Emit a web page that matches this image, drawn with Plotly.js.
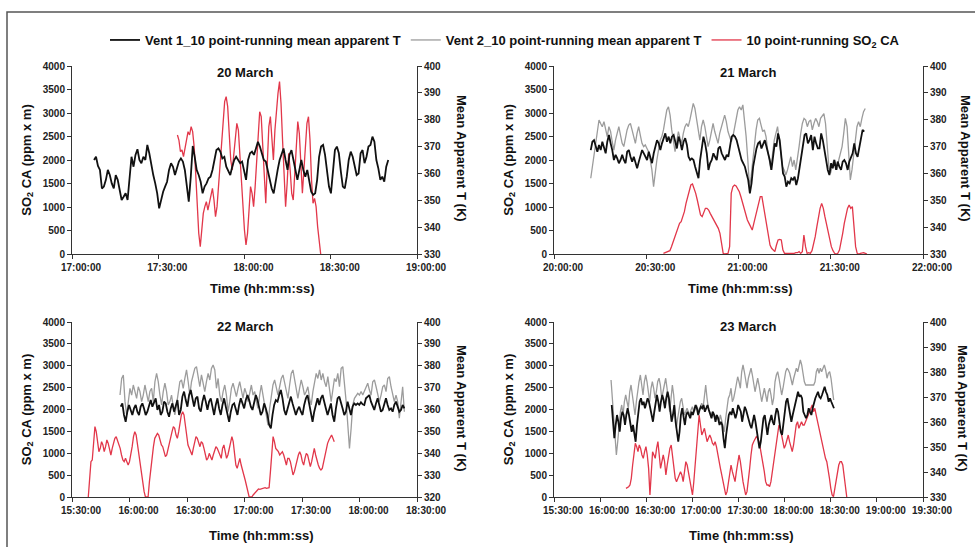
<!DOCTYPE html>
<html><head><meta charset="utf-8">
<script src="https://cdn.plot.ly/plotly-3.0.1.min.js"></script>
<style>html,body{margin:0;padding:0;background:#fff}#chart{width:975px;height:547px}</style>
</head><body><div id="chart"></div>
<script>
// ---------- 20 March ----------
const day20 = "2008-03-20";
const v1_20_start = "17:07:40", v1_20_end = "18:50:00";
const v1_20 = [365.0,366.2,362.8,361.3,354.4,355.1,357.6,361.3,359.4,356.3,354.4,359.4,357.6,353.2,350.1,351.3,352.6,350.1,360.0,366.2,362.5,366.9,369.0,365.0,363.8,366.2,365.0,370.6,367.5,362.5,359.4,356.3,352.6,347.0,350.7,353.2,355.1,356.9,361.3,363.8,362.5,359.4,361.9,364.4,365.6,364.4,361.3,355.1,349.5,358.8,370.2,366.2,361.3,359.4,356.9,352.6,355.1,356.3,358.2,358.8,361.3,365.0,368.7,369.3,368.1,365.6,366.2,362.5,360.7,359.4,362.5,365.0,366.2,365.0,363.8,364.4,360.7,357.6,365.0,367.5,368.1,366.9,369.3,371.8,370.0,366.9,365.0,364.4,361.3,358.2,354.4,352.6,357.6,361.3,365.0,367.5,369.3,365.0,361.3,366.9,368.7,365.0,361.3,357.6,361.3,365.0,361.3,358.8,361.3,357.6,353.2,352.0,352.6,357.6,366.2,370.0,370.6,366.9,361.3,355.1,352.6,361.3,368.7,370.0,367.5,360.7,355.1,354.4,358.8,365.0,368.1,366.2,363.1,359.4,360.0,367.5,368.7,363.8,366.2,370.0,370.6,373.7,371.8,365.0,361.9,357.6,358.8,356.9,362.5,365.0];
const so2_20_start = "17:36:40", so2_20_end = "18:26:30";
const so2_20 = [2532,2425,2177,2213,2071,2248,2496,2603,2532,2709,2603,2284,1716,936,440,156,582,865,1007,1113,936,1078,1291,1397,1149,794,1007,1433,1858,2355,2851,3241,3347,3135,2567,2000,1787,2142,2425,2780,2638,2142,1433,936,511,191,440,936,1433,1291,1007,1433,2000,2496,3028,2922,2355,1645,1078,1929,2709,2922,2496,2000,2638,3064,3418,3667,3206,2425,1574,1007,1504,2142,1787,1291,1149,1787,2496,2816,2567,1858,1291,1787,2355,2780,2922,2425,1574,1078,1184,1007,582,227,0];

// ---------- 21 March ----------
const day21 = "2008-03-21";
const v1_21_start = "20:11:57", v1_21_end = "21:40:54";
const v1_21 = [368.7,371.8,372.4,370.0,368.1,370.6,368.7,371.8,369.3,367.5,371.8,374.3,371.2,368.7,365.0,366.9,365.6,363.8,365.0,366.9,365.0,363.8,368.1,368.7,366.2,364.4,366.2,364.4,361.9,364.4,366.9,368.7,367.5,366.2,365.0,368.1,365.6,363.8,367.5,370.0,372.4,371.2,368.7,371.2,373.1,374.9,371.8,373.7,371.2,373.7,374.3,371.8,369.3,373.7,371.8,368.7,371.8,373.1,370.6,366.2,365.0,365.6,365.0,362.5,360.7,358.2,365.0,368.7,373.7,371.2,367.5,361.3,363.8,365.0,367.5,366.2,365.0,369.3,370.0,367.5,366.2,365.0,366.9,366.2,370.0,373.7,374.3,373.7,372.4,370.0,367.5,365.0,363.8,362.5,360.0,357.6,352.6,356.3,362.5,366.2,369.3,371.2,371.8,369.3,371.2,372.4,370.0,367.5,365.0,361.3,367.5,371.2,370.0,374.9,372.4,365.0,360.0,358.8,355.1,356.9,356.3,358.2,357.6,358.8,355.7,358.2,362.5,367.5,371.8,374.3,374.9,371.2,372.4,374.3,368.7,373.7,371.2,369.3,369.3,374.9,372.4,368.7,365.0,361.3,359.4,363.8,361.9,365.0,361.3,364.4,362.5,361.3,364.4,365.0,363.8,361.3,364.4,366.2,367.5,371.2,367.5,366.2,370.0,372.4,376.2,375.6];
const v2_21_start = "20:11:57", v2_21_end = "21:41:13";
const v2_21 = [358.2,362.5,367.5,372.4,376.2,379.9,378.6,377.4,379.3,376.2,373.7,377.4,375.6,371.8,368.7,372.4,375.6,377.4,374.3,371.2,370.0,373.7,376.2,378.0,378.6,376.2,373.7,371.2,374.9,377.4,374.3,371.2,370.0,370.6,369.3,368.1,365.0,361.3,355.1,361.3,365.0,368.7,372.4,373.7,376.2,379.9,383.6,384.8,381.7,376.2,371.2,368.1,371.8,375.6,373.1,371.2,374.9,377.4,378.6,377.4,379.9,383.0,386.1,384.2,379.9,375.6,372.4,377.4,379.9,377.4,373.7,370.0,372.4,376.2,378.6,375.6,373.1,371.2,374.9,377.4,379.9,381.7,379.3,375.6,373.7,371.8,373.7,377.4,381.1,383.6,384.8,383.6,385.5,380.5,373.7,365.0,355.1,358.8,365.0,371.2,376.2,379.9,380.5,378.0,375.6,376.2,373.7,368.7,365.0,361.3,367.5,372.4,374.9,377.4,372.4,366.2,362.5,361.3,359.4,361.3,363.8,366.2,362.5,365.0,361.3,365.0,370.0,374.9,378.6,380.5,379.9,377.4,379.3,379.9,376.2,378.6,380.5,379.3,377.4,380.5,381.7,382.3,378.6,368.7,362.5,360.0,362.5,365.0,363.8,361.3,365.0,367.5,370.0,374.9,380.5,377.4,366.2,357.6,361.3,367.5,373.7,377.4,379.3,377.4,380.5,383.0,384.2];
const so2_21_start = "20:35:35", so2_21_end = "21:41:46";
const so2_21 = [14,28,28,50,71,156,262,369,475,581,652,688,794,900,1077,1219,1361,1468,1489,1397,1290,1149,1007,830,794,900,971,971,936,865,794,723,688,617,546,439,227,14,0,0,14,156,1290,1432,1468,1446,1397,1326,1219,1077,936,794,723,652,581,510,652,794,936,1077,1219,1219,1007,794,581,369,191,121,85,50,191,298,312,298,85,14,14,14,0,0,14,14,28,28,50,14,50,404,156,14,28,14,71,191,369,581,794,971,1077,971,794,617,439,262,156,71,14,0,14,85,227,439,652,830,971,1042,971,1007,652,156,14,0,14,28,28,14,0];

// ---------- 22 March ----------
const day22 = "2008-03-22";
const v1_22_start = "15:55:24", v1_22_end = "18:23:24";
const v1_22 = [361.3,362.8,357.5,354.4,359.0,362.1,359.8,357.5,360.5,362.1,359.0,357.5,361.3,362.8,360.5,357.5,359.0,362.1,364.3,361.3,363.6,365.1,359.8,362.1,357.5,359.0,363.6,362.8,359.0,356.7,360.5,362.8,359.0,362.1,364.3,357.5,359.8,365.9,368.2,364.3,361.3,366.6,368.9,365.1,361.3,365.1,365.9,360.5,359.0,363.6,366.6,363.6,359.8,363.6,365.1,361.3,357.5,362.1,365.1,360.5,357.5,362.1,365.1,361.3,357.5,354.4,359.0,362.1,362.8,359.8,357.5,362.1,365.1,362.8,360.5,364.3,366.6,364.3,361.3,359.8,363.6,366.6,364.3,360.5,357.5,359.0,362.8,360.5,357.5,352.9,351.4,357.5,362.1,364.3,363.6,366.6,368.9,365.1,359.8,357.5,360.5,363.6,365.9,362.8,359.8,357.5,359.8,361.3,359.0,357.5,362.1,365.1,366.6,362.8,359.0,354.4,359.0,362.8,365.1,362.1,365.1,366.6,362.8,360.5,357.5,360.5,362.8,357.5,354.4,360.5,365.1,365.9,363.6,360.5,357.5,359.0,363.6,360.5,357.5,361.3,362.8,362.1,362.8,362.1,363.3,362.4,362.1,365.1,365.9,366.6,363.6,361.3,359.8,362.8,365.1,362.1,359.0,359.8,362.8,365.1,362.1,359.8,360.5,359.0,362.1,363.6,361.3,359.0,359.8,362.1,360.5];
const v2_22_start = "15:55:03", v2_22_end = "18:23:24";
const v2_22 = [366.6,374.2,375.8,363.6,357.5,365.1,369.7,366.6,371.2,368.2,365.1,370.4,368.2,363.6,366.6,371.2,366.6,363.6,368.2,369.7,363.6,372.7,376.5,372.7,366.6,362.1,368.2,372.0,368.2,362.1,363.6,366.6,361.3,357.5,362.1,366.6,372.7,373.5,369.7,374.2,378.1,372.7,366.6,372.7,375.8,378.8,379.6,375.0,370.4,375.8,372.7,368.2,372.7,376.5,373.5,378.8,380.3,378.1,369.7,374.2,366.6,363.6,368.2,371.2,366.6,359.0,363.6,369.7,372.0,368.2,365.9,369.7,372.7,368.9,365.1,369.7,367.4,363.6,368.2,371.2,366.6,368.2,363.6,360.5,366.6,371.2,366.6,362.1,357.5,352.9,360.5,366.6,371.2,373.5,370.4,366.6,370.4,374.2,375.8,372.7,368.2,365.1,371.2,376.5,378.1,373.5,368.2,365.1,369.7,373.5,370.4,366.6,368.2,370.4,365.1,362.1,368.2,372.7,376.5,374.2,378.1,373.5,376.5,372.7,370.4,375.0,368.2,363.6,368.9,374.2,372.7,376.5,370.4,378.8,379.6,372.7,363.6,352.9,342.2,351.4,362.1,365.1,366.6,367.4,366.6,368.2,366.6,368.2,370.4,372.0,368.9,366.6,372.7,373.5,370.4,366.6,363.6,366.6,370.4,371.2,368.2,374.2,375.0,370.4,366.6,363.6,366.6,363.6,356.0,365.1,370.4,359.0];
const so2_22_start = "15:38:30", so2_22_end = "17:46:50";
const so2_22 = [0,503,808,846,1265,1608,1493,1227,1036,1112,1265,1189,1036,1150,1303,1227,1074,960,1112,1265,1341,1379,1303,1227,1112,960,846,808,884,808,731,808,960,1150,1379,1493,1417,1189,960,731,579,350,122,0,0,0,350,655,884,1150,1341,1417,1455,1417,1303,1189,1150,1036,922,960,1112,1227,1341,1493,1608,1570,1417,1341,1493,1722,1874,1950,1874,1646,1417,1189,1112,1036,960,1112,1265,1379,1341,1227,1150,1265,1227,1112,960,846,884,998,922,846,960,1036,1150,1112,1036,960,884,1112,1189,1036,884,960,1112,1265,1379,1265,960,731,655,808,884,731,579,503,389,274,122,0,0,0,46,84,122,160,183,175,183,183,198,213,198,198,213,579,1112,1379,1265,1112,1074,1036,960,998,1036,960,808,731,884,884,808,655,503,579,731,808,960,1036,960,808,731,884,998,960,808,693,808,960,1112,960,808,731,655,617,655,808,960,1112,1227,1303,1379,1417,1341,1265];

// ---------- 23 March ----------
const day23 = "2008-03-23";
const v1_23_start = "16:07:32", v1_23_end = "18:32:06";
const v1_23 = [366.8,358.8,353.5,358.8,362.8,360.1,356.1,361.5,364.1,362.8,358.8,362.8,365.5,362.8,358.8,356.1,358.8,354.8,352.1,358.8,364.1,368.1,369.5,366.8,368.1,365.5,367.5,369.5,368.1,365.5,362.8,360.1,364.1,368.1,370.8,368.1,364.1,368.1,370.8,368.8,365.5,369.5,372.1,369.5,365.5,360.1,362.8,366.8,360.1,354.8,352.1,356.1,362.8,365.5,362.8,358.8,362.8,364.1,362.8,361.5,364.1,362.8,364.8,366.8,365.5,362.8,364.8,366.1,365.5,366.8,364.1,365.5,366.8,364.8,362.8,361.5,364.1,362.8,360.1,362.8,361.5,358.8,360.1,358.8,353.5,349.5,354.8,360.1,362.8,364.1,362.8,365.5,362.8,361.5,363.5,366.8,365.5,364.1,360.1,362.8,366.1,364.8,362.8,360.1,358.8,357.5,360.1,362.8,360.1,356.1,352.1,349.5,352.1,357.5,361.5,362.8,358.8,354.8,358.8,361.5,362.8,360.1,358.8,362.8,365.5,364.1,360.1,356.1,354.8,358.8,362.8,368.1,369.5,366.8,364.1,360.1,362.8,365.5,368.1,370.8,372.1,370.1,370.8,369.5,364.1,362.8,361.5,362.8,365.5,364.1,362.8,365.5,368.1,369.5,370.8,372.1,370.1,369.5,370.8,372.1,374.1,372.1,370.8,368.1,369.5,368.1,366.8,365.5];
const v2_23_start = "16:07:06", v2_23_end = "18:31:55";
const v2_23 = [376.8,369.5,362.8,354.8,346.8,352.1,358.8,364.1,366.8,362.8,368.1,370.8,368.1,365.5,372.1,374.8,370.8,366.8,362.8,368.1,373.5,376.1,378.8,374.8,370.8,376.1,378.8,376.1,370.8,368.1,373.5,376.1,373.5,369.5,372.1,376.1,377.5,374.8,369.5,372.1,376.1,377.5,373.5,368.1,364.1,369.5,374.8,370.8,362.8,357.5,361.5,365.5,368.1,369.5,365.5,362.8,364.1,365.5,364.1,362.8,364.8,366.1,364.1,364.8,366.8,365.5,364.1,366.1,367.5,365.5,370.8,374.8,369.5,365.5,364.1,362.8,364.1,362.8,361.5,362.8,361.5,360.1,362.8,360.1,357.5,356.1,361.5,366.8,369.5,370.8,373.5,368.1,369.5,372.1,376.1,378.1,376.1,373.5,380.1,382.8,380.1,376.1,373.5,377.5,380.1,381.5,378.8,374.8,372.1,374.8,377.5,374.8,370.8,368.1,370.8,373.5,370.8,368.1,372.1,373.5,370.8,366.8,369.5,376.1,378.8,380.1,377.5,373.5,370.8,373.5,377.5,380.1,381.5,380.8,379.5,377.5,374.8,377.5,380.1,381.5,380.1,382.8,384.8,382.8,378.8,376.1,374.8,374.8,374.8,374.8,374.8,374.8,374.8,376.1,380.1,381.5,379.5,381.5,380.1,381.5,382.8,380.8,377.5,379.5,380.1,377.5,373.5,368.8];
const so2_23_start = "16:16:50", so2_23_end = "18:40:25";
const so2_23 = [198,213,236,274,427,731,1036,1227,1150,1036,1189,1112,960,884,1036,1150,960,655,46,731,1036,960,884,1112,1265,960,655,808,960,808,503,731,960,1112,1189,960,655,427,350,427,503,579,503,350,579,808,731,579,427,274,46,350,731,1189,1646,1874,1646,1417,1493,1570,1417,1265,1341,1417,1341,1227,1189,1265,1150,960,808,655,503,350,198,46,122,350,579,731,579,427,350,579,808,960,808,503,350,198,46,122,350,655,960,1189,1265,1341,1379,1341,1265,1112,960,808,579,350,274,274,236,350,579,808,1036,1265,1493,1646,1570,1417,1265,1112,1189,1341,1417,1265,1112,1036,1189,1417,1646,1722,1570,1646,1722,1646,1646,1722,1798,1874,1950,2027,2103,1950,2027,1874,1722,1570,1417,1265,1112,960,884,808,655,427,198,46,8,198,427,579,731,808,808,731,503,198,0];

// ---------- colours / names ----------
const NAME_V1 = "Vent 1_10 point-running mean apparent T";
const NAME_V2 = "Vent 2_10 point-running mean apparent T";
const NAME_SO2 = "10 point-running SO<sub>2</sub> CA";
const C_V1 = "#111111", C_V2 = "#9c9c9c", C_SO2 = "#e2374a";
const FONT = "Liberation Sans, Arial, Helvetica, sans-serif";

function times(day, start, end, n) {
  const t0 = Date.parse(day + "T" + start + "Z");
  const t1 = Date.parse(day + "T" + end + "Z");
  const out = [];
  for (let i = 0; i < n; i++) {
    const t = new Date(t0 + (t1 - t0) * i / (n - 1));
    out.push(t.toISOString().slice(0, 19).replace("T", " "));
  }
  return out;
}

function tr(day, start, end, vals, xa, ya, kind, legend) {
  const style = kind === "v1" ? {color: C_V1, width: 1.8} :
                kind === "v2" ? {color: C_V2, width: 1.3} : {color: C_SO2, width: 1.3};
  const name = kind === "v1" ? NAME_V1 : kind === "v2" ? NAME_V2 : NAME_SO2;
  const rank = kind === "v1" ? 1 : kind === "v2" ? 2 : 3;
  return {type: "scatter", mode: "lines", x: times(day, start, end, vals.length), y: vals,
    xaxis: xa, yaxis: ya, line: style, name: name, showlegend: legend, legendrank: rank,
    hoverinfo: "skip"};
}

const data = [
  tr(day20, v1_20_start, v1_20_end, v1_20, "x", "y2", "v1", false),
  tr(day20, so2_20_start, so2_20_end, so2_20, "x", "y", "so2", false),

  tr(day21, v2_21_start, v2_21_end, v2_21, "x2", "y4", "v2", true),
  tr(day21, v1_21_start, v1_21_end, v1_21, "x2", "y4", "v1", true),
  tr(day21, so2_21_start, so2_21_end, so2_21, "x2", "y3", "so2", true),

  tr(day22, v2_22_start, v2_22_end, v2_22, "x3", "y6", "v2", false),
  tr(day22, v1_22_start, v1_22_end, v1_22, "x3", "y6", "v1", false),
  tr(day22, so2_22_start, so2_22_end, so2_22, "x3", "y5", "so2", false),

  tr(day23, v2_23_start, v2_23_end, v2_23, "x4", "y8", "v2", false),
  tr(day23, v1_23_start, v1_23_end, v1_23, "x4", "y8", "v1", false),
  tr(day23, so2_23_start, so2_23_end, so2_23, "x4", "y7", "so2", false)
];

const tickFont = {family: FONT, size: 10, color: "#222", weight: "bold"};
const titleFont = {family: FONT, size: 13, color: "#111", weight: "bold"};

function xaxis(domain, anchor, day, r0, r1) {
  return {domain: domain, anchor: anchor, type: "date",
    range: [day + " " + r0, day + " " + r1], tick0: day + " " + r0, dtick: 1800000,
    tickformat: "%H:%M:%S", ticks: "outside", ticklen: 4, tickcolor: "#333",
    showline: true, linecolor: "#333", linewidth: 1, showgrid: false, zeroline: false,
    tickangle: 0, ticklabelshift: 9, tickfont: tickFont, fixedrange: true};
}
function yleft(domain, anchor) {
  return {domain: domain, anchor: anchor, range: [0, 4000], dtick: 500, tick0: 0,
    ticks: "outside", ticklen: 4, tickcolor: "#333", showline: true, linecolor: "#333",
    linewidth: 1, showgrid: false, zeroline: false, tickfont: tickFont, fixedrange: true,
    title: {text: "SO<sub>2</sub> CA (ppm x m)", font: titleFont, standoff: 8}};
}
function yright(over, anchor, lo) {
  return {overlaying: over, anchor: anchor, side: "right", range: [lo, 400], dtick: 10, tick0: lo,
    ticks: "outside", ticklen: 4, tickcolor: "#333", showline: true, linecolor: "#333",
    linewidth: 1, showgrid: false, zeroline: false, tickfont: tickFont, fixedrange: true};
}

const DL = [72/975, 417/975], DR = [554/975, 923/975];
const DT = [1 - 254/547, 1 - 66/547], DB = [1 - 497/547, 1 - 322/547];

function ann(text, xp, yp, angle) {
  return {text: text, x: xp/975, y: 1 - yp/547, xref: "paper", yref: "paper",
    showarrow: false, textangle: angle || 0, font: titleFont, xanchor: "center", yanchor: "middle"};
}

const layout = {
  width: 975, height: 547, margin: {l: 0, r: 0, t: 0, b: 0},
  paper_bgcolor: "#ffffff", plot_bgcolor: "rgba(0,0,0,0)",
  font: {family: FONT},
  showlegend: true,
  legend: {orientation: "h", x: 505/975, xanchor: "center", y: 1 - 40/547, yanchor: "middle",
    font: {family: FONT, size: 13, color: "#111", weight: "bold"}, itemwidth: 30,
    bgcolor: "rgba(0,0,0,0)", traceorder: "normal"},
  xaxis: xaxis(DL, "y", day20, "17:00:00", "19:00:00"),
  yaxis: yleft(DT, "x"),
  yaxis2: yright("y", "x", 330),
  xaxis2: xaxis(DR, "y3", day21, "20:00:00", "22:00:00"),
  yaxis3: yleft(DT, "x2"),
  yaxis4: yright("y3", "x2", 330),
  xaxis3: xaxis(DL, "y5", day22, "15:30:00", "18:30:00"),
  yaxis5: yleft(DB, "x3"),
  yaxis6: yright("y5", "x3", 320),
  xaxis4: xaxis(DR, "y7", day23, "15:30:00", "19:30:00"),
  yaxis7: yleft(DB, "x4"),
  yaxis8: yright("y7", "x4", 330),
  annotations: [
    ann("20 March", 245, 72), ann("21 March", 748, 72),
    ann("22 March", 245, 326), ann("23 March", 748, 326),
    ann("Time (hh:mm:ss)", 262, 288), ann("Time (hh:mm:ss)", 740, 288),
    ann("Time (hh:mm:ss)", 261, 535), ann("Time (hh:mm:ss)", 741, 535),
    ann("Mean Apparent T (K)", 462, 158, 90), ann("Mean Apparent T (K)", 966, 158, 90),
    ann("Mean Apparent T (K)", 462, 408, 90), ann("Mean Apparent T (K)", 963, 408, 90)
  ],
  shapes: [
    {type: "rect", xref: "paper", yref: "paper", x0: 7/975, x1: 1.02, y0: -0.02, y1: 1 - 12/547,
     line: {color: "#555", width: 1.5}, fillcolor: "rgba(0,0,0,0)", layer: "below"}
  ]
};

Plotly.newPlot("chart", data, layout, {staticPlot: true, displayModeBar: false});
</script>
</body></html>
